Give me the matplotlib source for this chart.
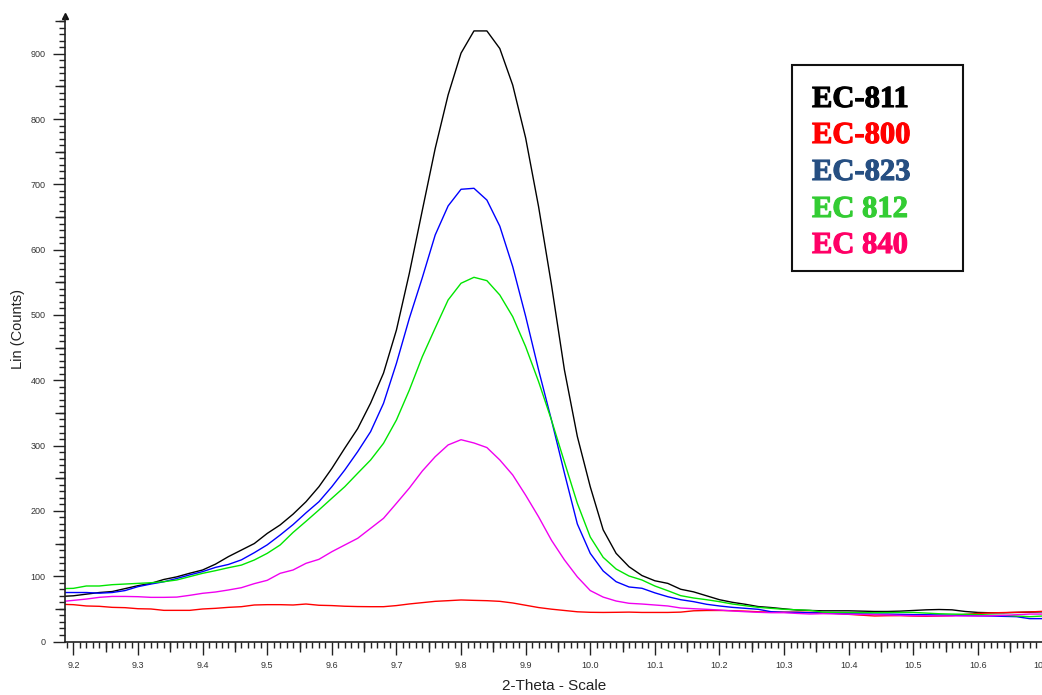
import numpy as np
import matplotlib
matplotlib.use("Agg")
import matplotlib.pyplot as plt
import matplotlib.patheffects as pe
from matplotlib.patches import Rectangle
from matplotlib.font_manager import FontProperties
from matplotlib.ticker import MultipleLocator, FixedLocator, NullLocator

plt.rcParams['font.family'] = ['Liberation Sans', 'DejaVu Sans']

# 2-theta scan, 0.02 deg steps
two_theta = np.round(np.arange(9.18, 10.7001, 0.02), 2)

ec811 = [69, 70, 72.5, 75, 76.5, 81, 85.5, 89, 95, 99,
         104.5, 109.5, 118.5, 130, 140, 150, 165.5, 178.5, 195, 214,
         237, 265, 296, 326, 365, 411, 477, 564, 660, 755,
         837, 901, 935, 935, 908, 852, 771, 666, 546, 416,
         314, 237, 171, 135, 114.5, 101, 93, 89, 80, 76,
         70, 64, 60, 57, 53.5, 52, 50, 48.2, 47.5, 47,
         47, 47, 46.5, 46, 46, 46.5, 47.5, 48.5, 49, 48.5,
         46, 44.5, 44, 44, 44.5, 45, 45.5]

ec800 = [57, 56.4, 54.4, 53.9, 52.3, 51.8, 50.2, 49.8, 47.7, 47.7,
         47.7, 49.8, 50.8, 52.3, 53.3, 55.9, 56.4, 56.4, 55.9, 57.4,
         55.5, 55, 54, 53.5, 53.3, 53.3, 55, 57.5, 59.5, 61.5,
         62.5, 63.6, 63, 62.5, 61.5, 59, 55.5, 52, 49.5, 47.5,
         45.5, 44.7, 44.5, 44.7, 45, 44.5, 44.5, 44.5, 45, 47,
         47.5, 47.5, 47.2, 46.5, 45.5, 45, 45, 45, 44.5, 44,
         43, 41.6, 40.3, 39.1, 39.5, 39.6, 39, 38.6, 39, 39.6,
         41.5, 43, 43.8, 44.3, 44.8, 45.2, 46.2]

ec823 = [75, 75, 75, 74, 75, 78, 84, 88, 91.5, 96.5,
         102, 107, 113.5, 118, 125, 136, 148, 163, 179, 197,
         214, 237, 262.6, 290.7, 321.3, 364.7, 426, 495, 557, 622.5,
         667, 692.5, 694, 676, 636, 574, 498, 416, 339, 258,
         180, 135, 108, 91.6, 83.5, 81.5, 74.5, 68.6, 64, 61,
         57, 54.4, 52.3, 50.8, 49.3, 45.6, 44.7, 44.5, 44.1, 43.5,
         43, 42.5, 42.3, 42, 42, 41.6, 41.2, 41, 40.7, 40.3,
         39.8, 39.3, 39, 38.5, 38, 35, 35]

ec812 = [80.9, 81.4, 85, 85, 87, 88, 89, 90, 91.6, 94.2,
         99.3, 104.4, 108.5, 113, 117, 124.8, 135, 147.8, 167, 184,
         201.4, 219.3, 237, 257.6, 277.9, 303.5, 339.2, 385.1, 436.1, 480,
         523, 548.6, 557.7, 552.6, 530.6, 497.4, 451.5, 398, 339, 275,
         211.6, 160, 128.9, 111, 100.3, 94.2, 85, 77.8, 70.2, 66.6,
         64, 61, 57.4, 54.8, 52.3, 50.8, 49.3, 48.5, 47.7, 45,
         44.5, 44.3, 44.2, 44.1, 44.3, 44.5, 44.5, 43.5, 42.5, 42,
         41.7, 41.3, 40.5, 40, 39, 38, 39]

ec840 = [61, 63, 65, 67.6, 69, 69, 68.6, 67.6, 67.6, 68,
         70.7, 73.8, 75.8, 78.9, 82.4, 88.6, 93.7, 104.4, 109.5, 119.7,
         125.8, 137.5, 147.8, 158, 173.3, 188.6, 211.6, 235, 261, 283,
         301, 309, 304, 297, 278, 255, 224, 191, 155, 125,
         99, 78, 68, 62, 58.5, 57.4, 55.9, 54.4, 51.3, 50.2,
         49.3, 48.2, 46.7, 45.6, 44.7, 44.1, 44.1, 43, 42.1, 42.6,
         42.2, 41.8, 41.4, 41.1, 40.6, 40.1, 39.6, 39.4, 39.2, 39.1,
         39.1, 39.2, 39.5, 40, 41, 42, 42]

series = [ec811, ec800, ec823, ec812, ec840]
line_colors = ['#000000', '#ff0000', '#0000ff', '#00e600', '#f000f0']
legend_labels = ['EC-811', 'EC-800', 'EC-823', 'EC 812', 'EC 840']
legend_colors = ['#000000', '#ff0000', '#264f82', '#33cc33', '#ff0066']

fig = plt.figure(figsize=(10.42, 6.95), dpi=100)
ax = fig.add_axes([65 / 1042, 1 - 641.5 / 695, 977.5 / 1042, 625.6 / 695])

for ys, c in zip(series, line_colors):
    ax.plot(two_theta, ys, color=c, lw=1.0)

ax.set_xlim(9.187, 10.70)
ax.set_ylim(0, 958)

# only left / bottom axis lines
ax.spines['top'].set_visible(False)
ax.spines['right'].set_visible(False)
for s in ('left', 'bottom'):
    ax.spines[s].set_color('#222222')
    ax.spines[s].set_linewidth(1.2)

ax.xaxis.set_major_locator(MultipleLocator(0.1))
ax.xaxis.set_minor_locator(MultipleLocator(0.01))
ax.yaxis.set_major_locator(MultipleLocator(100))
ax.yaxis.set_minor_locator(MultipleLocator(10))
ax.xaxis.set_major_formatter(plt.FuncFormatter(lambda v, p: '%.1f' % v))
ax.tick_params(which='major', length=9, width=1, color='#222222',
               labelsize=6.5, labelcolor='#333333', pad=5)
ax.tick_params(which='minor', length=4.5, width=1, color='#222222')

# medium ticks at the halves
secx = ax.secondary_xaxis('bottom')
secx.xaxis.set_major_locator(FixedLocator(np.arange(9.25, 10.7, 0.1)))
secx.xaxis.set_minor_locator(NullLocator())
secx.tick_params(length=7.5, width=1, color='#222222', labelbottom=False)
secx.spines['bottom'].set_visible(False)
secy = ax.secondary_yaxis('left')
secy.yaxis.set_major_locator(FixedLocator(np.arange(50, 958, 100)))
secy.yaxis.set_minor_locator(NullLocator())
secy.tick_params(length=7.5, width=1, color='#222222', labelleft=False)
secy.spines['left'].set_visible(False)

# arrow at the top of the y axis
ax.plot([0], [1], marker='^', markersize=4.5, color='#111111',
        transform=ax.transAxes, clip_on=False)

ax.set_xlabel('2-Theta - Scale', fontsize=11, color='#222222')
ax.set_ylabel('Lin (Counts)', fontsize=10.5, color='#222222')
ax.xaxis.label.set_va('center')
ax.yaxis.label.set_va('center')
ax.xaxis.set_label_coords(0.5, -0.0711)
ax.yaxis.set_label_coords(-0.048, 0.5)

# legend box drawn as text (bold serif faked with a thin stroke)
fig.patches.append(Rectangle((792 / 1042, 1 - 271 / 695), 171 / 1042, 206 / 695,
                             transform=fig.transFigure, fill=False,
                             edgecolor='#111111', lw=1.5))
leg_font = FontProperties(family=['Liberation Serif', 'DejaVu Serif'],
                          weight='bold', size=22)
baselines = [107, 143, 180, 217, 253]
for lab, c, yb in zip(legend_labels, legend_colors, baselines):
    fig.text(812 / 1042, 1 - yb / 695, lab, color=c, fontproperties=leg_font,
             va='baseline', ha='left',
             path_effects=[pe.withStroke(linewidth=0.8, foreground=c)])

fig.savefig('out.png', dpi=100)
